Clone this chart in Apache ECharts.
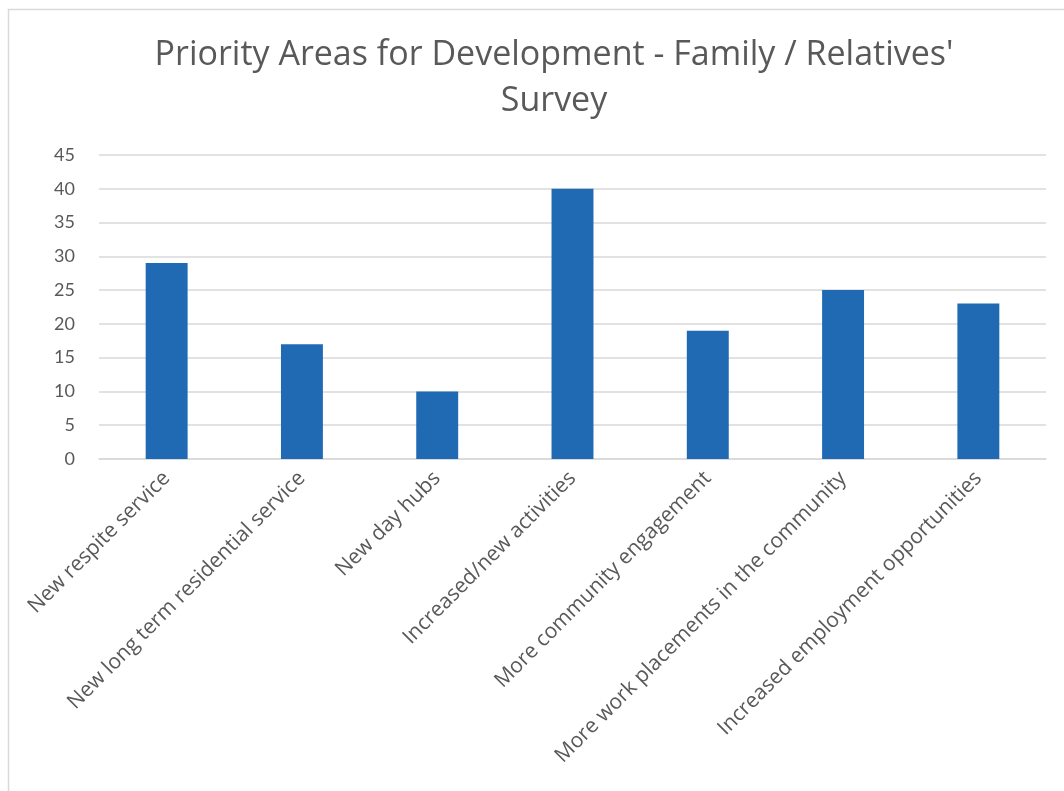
<!DOCTYPE html>
<html>
<head>
<meta charset="utf-8">
<style>
  html, body {margin: 0; padding: 0; background: #fff;}
  #main {width: 1064px; height: 791px;}
</style>
<script src="https://cdn.jsdelivr.net/npm/echarts@6/dist/echarts.min.js"></script>
</head>
<body>
<div id="main"></div>
<script>
const categories = [
  'New respite service',
  'New long term residential service',
  'New day hubs',
  'Increased/new activities',
  'More community engagement',
  'More work placements in the community',
  'Increased employment opportunities'
];
const values = [29, 17, 10, 40, 19, 25, 23];
const titleText = "Priority Areas for Development - Family / Relatives'\nSurvey";

const chart = echarts.init(document.getElementById('main'));
const font = '"Open Sans", Lato, sans-serif';
chart.setOption({
  animation: false,
  backgroundColor: '#fff',
  graphic: [{
    type: 'rect',
    shape: {x: 8.5, y: 9.5, width: 1200, height: 900},
    style: {fill: 'none', stroke: '#d9d9d9', lineWidth: 1.5},
    silent: true
  }],
  title: {
    text: titleText,
    left: 549,
    top: 27,
    textAlign: 'center',
    textStyle: {
      color: '#595959',
      fontFamily: font,
      fontWeight: 'normal',
      fontSize: 34,
      lineHeight: 46
    }
  },
  grid: {left: 99, right: 18, top: 155, bottom: 332, containLabel: false},
  xAxis: {
    type: 'category',
    data: categories,
    axisLine: {lineStyle: {color: '#d9d9d9', width: 1.5}},
    axisTick: {show: false},
    axisLabel: {
      rotate: 45,
      interval: 0,
      margin: 16,
      color: '#595959',
      fontFamily: font,
      fontSize: 21
    }
  },
  yAxis: {
    type: 'value',
    min: 0,
    max: 45,
    interval: 5,
    axisLine: {show: false},
    axisTick: {show: false},
    splitLine: {lineStyle: {color: '#d9d9d9', width: 1.5}},
    axisLabel: {
      margin: 24,
      color: '#595959',
      fontFamily: 'Lato, sans-serif',
      fontSize: 18
    }
  },
  series: [{
    type: 'bar',
    data: values,
    barWidth: '31%',
    itemStyle: {color: '#1f6ab3'}
  }]
});
</script>
</body>
</html>
